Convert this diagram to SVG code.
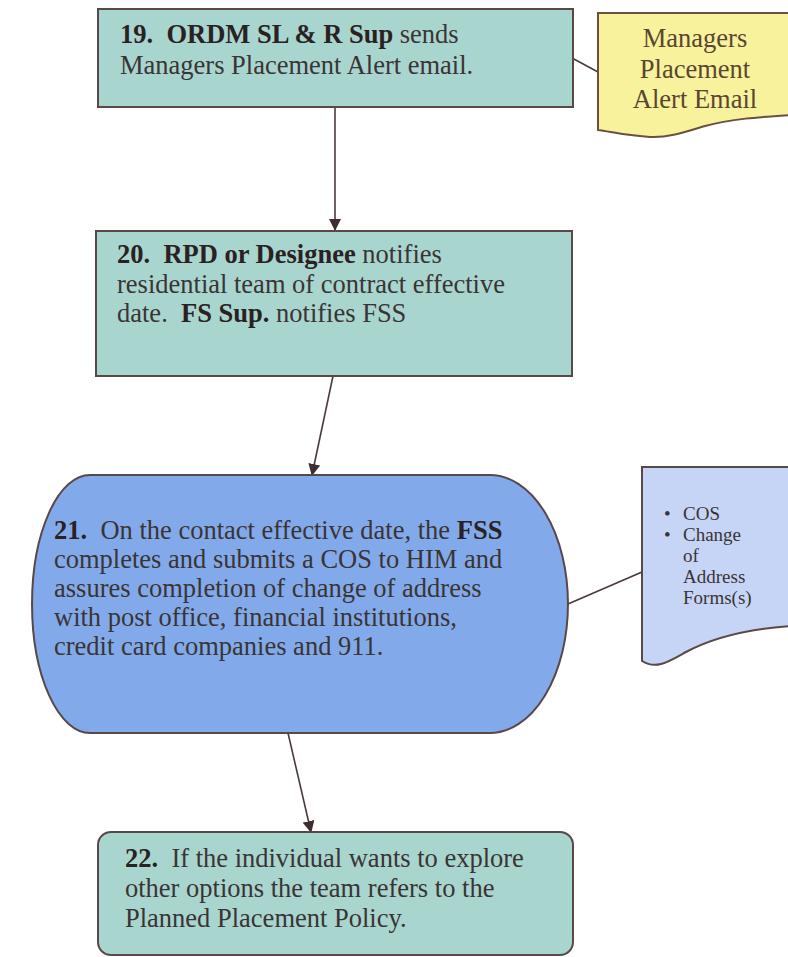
<svg xmlns="http://www.w3.org/2000/svg" width="788" height="957" viewBox="0 0 788 957">
  <defs>
    <style>
      .step { fill: #a9d5cf; stroke: #5a4747; stroke-width: 2; }
      .oval { fill: #82aaea; stroke: #5a4747; stroke-width: 2; }
      .doc-y { fill: #f8f29c; stroke: #6a5040; stroke-width: 2; }
      .doc-b { fill: #c6d4f6; stroke: #5a4747; stroke-width: 2; }
      .t { font-family: "Liberation Serif", "Times New Roman", serif; font-size: 26.5px; fill: #3a3434; white-space: pre; }
      .ts { font-family: "Liberation Serif", "Times New Roman", serif; font-size: 19px; fill: #3a3434; white-space: pre; }
      .ty { fill: #5a4630; }
      .b { font-weight: bold; fill: #2a2222; }
      .link { stroke: #4a3a3a; stroke-width: 1.6; fill: none; }
      .flow { stroke: #4a3a3a; stroke-width: 1.6; fill: none; marker-end: url(#head); }
    </style>
    <marker id="head" viewBox="0 0 12 12" refX="11" refY="6" markerWidth="12" markerHeight="12" markerUnits="userSpaceOnUse" orient="auto">
      <path d="M0 0 L12 6 L0 12 Z" fill="#3e2e2e"/>
    </marker>
  </defs>

  <!-- connectors -->
  <g id="connectors">
    <line class="flow" x1="335" y1="107" x2="335" y2="230"/>
    <line class="flow" x1="333" y1="376" x2="312" y2="475"/>
    <line class="flow" x1="288" y1="733" x2="311" y2="832"/>
    <line class="link" x1="572" y1="58" x2="598" y2="72"/>
    <line class="link" x1="568" y1="604" x2="642" y2="572"/>
  </g>

  <!-- step 19 -->
  <g id="step19">
    <rect class="step" x="98" y="9" width="475" height="98"/>
    <text class="t" x="120" y="43"><tspan class="b">19.  ORDM SL &amp; R Sup</tspan> sends</text>
    <text class="t" x="120" y="74">Managers Placement Alert email.</text>
  </g>

  <!-- alert email document -->
  <g id="alertEmail">
    <path class="doc-y" d="M598 13 H790 V115 C760 117 730 119 705 126 C685 132 668 138 650 137 C630 136 612 132 598 130 Z"/>
    <text class="t ty" x="695" y="47" text-anchor="middle">Managers</text>
    <text class="t ty" x="695" y="78" text-anchor="middle">Placement</text>
    <text class="t ty" x="695" y="108" text-anchor="middle">Alert Email</text>
  </g>

  <!-- step 20 -->
  <g id="step20">
    <rect class="step" x="96" y="231" width="476" height="145"/>
    <text class="t" x="117" y="263"><tspan class="b">20.  RPD or Designee</tspan> notifies</text>
    <text class="t" x="117" y="293">residential team of contract effective</text>
    <text class="t" x="117" y="322">date.  <tspan class="b">FS Sup.</tspan> notifies FSS</text>
  </g>

  <!-- step 21 -->
  <g id="step21">
    <path class="oval" d="M90 475 H490 A78 129 0 0 1 490 733 H90 A58 129 0 0 1 90 475 Z"/>
    <text class="t" x="54" y="539"><tspan class="b">21.</tspan>  On the contact effective date, the <tspan class="b">FSS</tspan></text>
    <text class="t" x="54" y="568">completes and submits a COS to HIM and</text>
    <text class="t" x="54" y="597">assures completion of change of address</text>
    <text class="t" x="54" y="626">with post office, financial institutions,</text>
    <text class="t" x="54" y="655">credit card companies and 911.</text>
  </g>

  <!-- forms document -->
  <g id="forms">
    <path class="doc-b" d="M642 467 H790 V626 C750 629 712 638 686 652 C668 662 656 670 642 661 Z"/>
    <text class="ts" x="664" y="520">•</text>
    <text class="ts" x="683" y="520">COS</text>
    <text class="ts" x="664" y="541">•</text>
    <text class="ts" x="683" y="541">Change</text>
    <text class="ts" x="683" y="562">of</text>
    <text class="ts" x="683" y="583">Address</text>
    <text class="ts" x="683" y="604">Forms(s)</text>
  </g>

  <!-- step 22 -->
  <g id="step22">
    <rect class="step" x="98" y="832" width="475" height="123" rx="13" ry="13"/>
    <text class="t" x="125" y="867"><tspan class="b">22.</tspan>  If the individual wants to explore</text>
    <text class="t" x="125" y="897">other options the team refers to the</text>
    <text class="t" x="125" y="927">Planned Placement Policy.</text>
  </g>
</svg>
